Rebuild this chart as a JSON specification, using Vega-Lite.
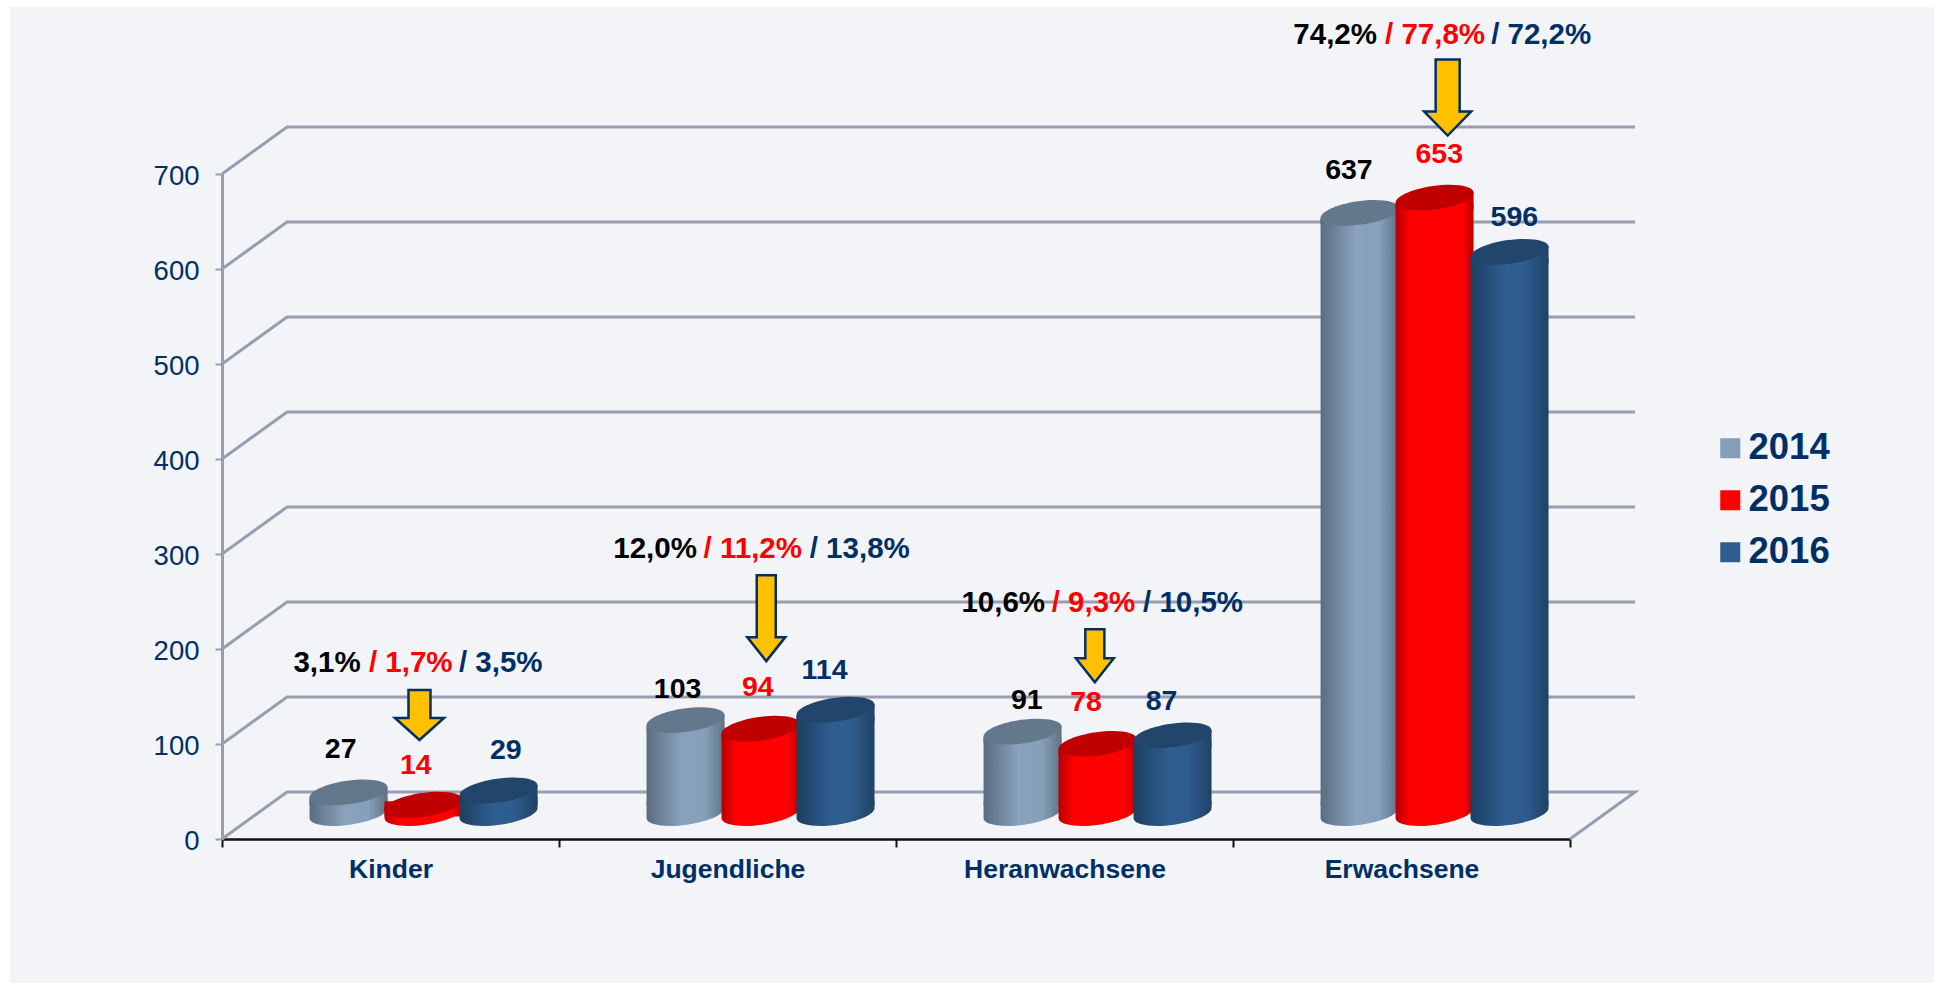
{
"$schema":"https://vega.github.io/schema/vega-lite/v6.json",
"autosize":{"type":"none"},
"background":"#ffffff",
"padding":{"left":10,"top":7,"right":0,"bottom":0},
"width":1924,"height":976,
"config":{"view":{"fill":"#f2f4f8","stroke":null},"font":"Liberation Sans"},
"datasets":{
"bars":[
{"group":"Kinder","year":2014,"value":27,"labelPos":0.352,"labelVal":94.8},
{"group":"Kinder","year":2015,"value":14,"labelPos":0.575,"labelVal":77.9},
{"group":"Kinder","year":2016,"value":29,"labelPos":0.842,"labelVal":93.5},
{"group":"Jugendliche","year":2014,"value":103,"labelPos":1.352,"labelVal":158.4},
{"group":"Jugendliche","year":2015,"value":94,"labelPos":1.59,"labelVal":159.7},
{"group":"Jugendliche","year":2016,"value":114,"labelPos":1.788,"labelVal":177.9},
{"group":"Heranwachsene","year":2014,"value":91,"labelPos":2.388,"labelVal":146.8},
{"group":"Heranwachsene","year":2015,"value":78,"labelPos":2.564,"labelVal":144.2},
{"group":"Heranwachsene","year":2016,"value":87,"labelPos":2.788,"labelVal":145.5},
{"group":"Erwachsene","year":2014,"value":637,"labelPos":3.344,"labelVal":703.9},
{"group":"Erwachsene","year":2015,"value":653,"labelPos":3.612,"labelVal":720.8},
{"group":"Erwachsene","year":2016,"value":596,"labelPos":3.835,"labelVal":654.5}
],
"shares":[
{"group":"Kinder","year":2014,"text":"3,1%","pos":0.212,"val":185.7},
{"group":"Kinder","year":2015,"text":"/ 1,7%","pos":0.436,"val":185.7},
{"group":"Kinder","year":2016,"text":"/ 3,5%","pos":0.703,"val":185.7},
{"group":"Jugendliche","year":2014,"text":"12,0%","pos":1.161,"val":305.2},
{"group":"Jugendliche","year":2015,"text":"/ 11,2%","pos":1.429,"val":305.2},
{"group":"Jugendliche","year":2016,"text":"/ 13,8%","pos":1.744,"val":305.2},
{"group":"Heranwachsene","year":2014,"text":"10,6%","pos":2.194,"val":248},
{"group":"Heranwachsene","year":2015,"text":"/ 9,3%","pos":2.462,"val":248},
{"group":"Heranwachsene","year":2016,"text":"/ 10,5%","pos":2.733,"val":248},
{"group":"Erwachsene","year":2014,"text":"74,2%","pos":3.179,"val":846.8},
{"group":"Erwachsene","year":2015,"text":"/ 77,8%","pos":3.451,"val":846.8},
{"group":"Erwachsene","year":2016,"text":"/ 72,2%","pos":3.766,"val":846.8}
],
"arrows":[
{"group":"Kinder","pos":0.586,"val":130.5},
{"group":"Jugendliche","pos":1.615,"val":232.5},
{"group":"Heranwachsene","pos":2.59,"val":192.9},
{"group":"Erwachsene","pos":3.637,"val":780.5}
],
"grid":[
{"tick":0,"step":1,"u":0,"v":0},{"tick":0,"step":2,"u":0.193,"v":49.5},{"tick":0,"step":3,"u":4.193,"v":49.5},{"tick":0,"step":4,"u":4,"v":0},
{"tick":100,"step":1,"u":0,"v":100},{"tick":100,"step":2,"u":0.193,"v":149.5},{"tick":100,"step":3,"u":4.193,"v":149.5},
{"tick":200,"step":1,"u":0,"v":200},{"tick":200,"step":2,"u":0.193,"v":249.5},{"tick":200,"step":3,"u":4.193,"v":249.5},
{"tick":300,"step":1,"u":0,"v":300},{"tick":300,"step":2,"u":0.193,"v":349.5},{"tick":300,"step":3,"u":4.193,"v":349.5},
{"tick":400,"step":1,"u":0,"v":400},{"tick":400,"step":2,"u":0.193,"v":449.5},{"tick":400,"step":3,"u":4.193,"v":449.5},
{"tick":500,"step":1,"u":0,"v":500},{"tick":500,"step":2,"u":0.193,"v":549.5},{"tick":500,"step":3,"u":4.193,"v":549.5},
{"tick":600,"step":1,"u":0,"v":600},{"tick":600,"step":2,"u":0.193,"v":649.5},{"tick":600,"step":3,"u":4.193,"v":649.5},
{"tick":700,"step":1,"u":0,"v":700},{"tick":700,"step":2,"u":0.193,"v":749.5},{"tick":700,"step":3,"u":4.193,"v":749.5}
]
},
"layer":[
{
"data":{"name":"grid"},
"mark":{"type":"line","stroke":"#9a9db0","strokeWidth":3,"clip":false},
"encoding":{
"x":{"field":"u","type":"quantitative","sort":null,"scale":{"domain":[0,4],"range":[212,1560]},"axis":null},
"y":{"field":"v","type":"quantitative","scale":{"domain":[0,700],"range":[832,167]},
"axis":{"orient":"left","offset":-212,"title":null,"values":[0,100,200,300,400,500,600,700],"grid":false,"labelFontSize":27.5,"labelColor":"#002f66","labelFont":"Liberation Sans","labelPadding":16,"labelOffset":2,"tickSize":7,"tickColor":"#9a9db0","tickWidth":2,"domainColor":"#9a9db0","domainWidth":3}},
"detail":{"field":"tick"},
"order":{"field":"step"}
}
},
{
"data":{"name":"bars"},
"encoding":{
"x":{"field":"group","type":"nominal","scale":{"domain":["Kinder","Jugendliche","Heranwachsene","Erwachsene"],"range":[212,1560],"paddingInner":0,"paddingOuter":0},
"axis":{"title":null,"orient":"bottom","offset":-144,"labelAngle":0,"tickBand":"extent","labelFontSize":26.5,"labelFontWeight":"bold","labelColor":"#002f66","labelFont":"Liberation Sans","labelPadding":9,"labelLimit":500,"tickSize":8,"tickColor":"#111111","tickWidth":2,"domainColor":"#111111","domainWidth":2.5}},
"xOffset":{"field":"year","type":"nominal","scale":{"domain":[2014,2015,2016],"paddingInner":0,"paddingOuter":0.747,"align":0.795}},
"y":{"field":"value","type":"quantitative","scale":{"domain":[0,700],"range":[832,167]}}
},
"layer":[
{"transform":[{"filter":"datum.year==2014"}],"layer":[
{"mark":{"type":"point","shape":"M-1,-0.3L-1,0.14A1,0.3,-8,0,0,1,-0.14L1,-0.3Z","size":6084,"filled":true,"opacity":1,"strokeWidth":0,"yOffset":-26,"fill":{"gradient":"linear","x1":0,"x2":1,"y1":0,"y2":0,"stops":[{"offset":0,"color":"#5a6c80"},{"offset":0.45,"color":"#8aa2bc"},{"offset":0.75,"color":"#86a0ba"},{"offset":1,"color":"#5f7286"}]}},"encoding":{"y":{"datum":0,"scale":{"domain":[0,700],"range":[832,167]}}}},
{"mark":{"type":"bar","width":78,"yOffset":-15,"y2Offset":-34,"fill":{"gradient":"linear","x1":0,"x2":1,"y1":0,"y2":0,"stops":[{"offset":0,"color":"#5a6c80"},{"offset":0.45,"color":"#8aa2bc"},{"offset":0.75,"color":"#86a0ba"},{"offset":1,"color":"#5f7286"}]}},"encoding":{"y2":{"datum":0}}},
{"mark":{"type":"point","shape":"M-1,0.14L1,-0.14L1,0.3L-1,0.3Z","size":6084,"filled":true,"opacity":1,"strokeWidth":0,"yOffset":-21,"fill":{"gradient":"linear","x1":0,"x2":1,"y1":0,"y2":0,"stops":[{"offset":0,"color":"#5a6c80"},{"offset":0.45,"color":"#8aa2bc"},{"offset":0.75,"color":"#86a0ba"},{"offset":1,"color":"#5f7286"}]}}},
{"mark":{"type":"point","shape":"M-1,0.14A1,0.3,-8,1,1,1,-0.14A1,0.3,-8,1,1,-1,0.14Z","size":6084,"filled":true,"opacity":1,"strokeWidth":0,"yOffset":-21,"fill":"#64788c"}}
]},
{"transform":[{"filter":"datum.year==2015"}],"layer":[
{"mark":{"type":"point","shape":"M-1,-0.3L-1,0.14A1,0.3,-8,0,0,1,-0.14L1,-0.3Z","size":6084,"filled":true,"opacity":1,"strokeWidth":0,"yOffset":-26,"fill":{"gradient":"linear","x1":0,"x2":1,"y1":0,"y2":0,"stops":[{"offset":0,"color":"#b80000"},{"offset":0.2,"color":"#ff0000"},{"offset":0.85,"color":"#ff0000"},{"offset":1,"color":"#bc0000"}]}},"encoding":{"y":{"datum":0,"scale":{"domain":[0,700],"range":[832,167]}}}},
{"mark":{"type":"bar","width":78,"yOffset":-15,"y2Offset":-34,"fill":{"gradient":"linear","x1":0,"x2":1,"y1":0,"y2":0,"stops":[{"offset":0,"color":"#b80000"},{"offset":0.2,"color":"#ff0000"},{"offset":0.85,"color":"#ff0000"},{"offset":1,"color":"#bc0000"}]}},"encoding":{"y2":{"datum":0}}},
{"mark":{"type":"point","shape":"M-1,0.14L1,-0.14L1,0.3L-1,0.3Z","size":6084,"filled":true,"opacity":1,"strokeWidth":0,"yOffset":-21,"fill":{"gradient":"linear","x1":0,"x2":1,"y1":0,"y2":0,"stops":[{"offset":0,"color":"#b80000"},{"offset":0.2,"color":"#ff0000"},{"offset":0.85,"color":"#ff0000"},{"offset":1,"color":"#bc0000"}]}}},
{"mark":{"type":"point","shape":"M-1,0.14A1,0.3,-8,1,1,1,-0.14A1,0.3,-8,1,1,-1,0.14Z","size":6084,"filled":true,"opacity":1,"strokeWidth":0,"yOffset":-21,"fill":"#c00000"}}
]},
{"transform":[{"filter":"datum.year==2016"}],"layer":[
{"mark":{"type":"point","shape":"M-1,-0.3L-1,0.14A1,0.3,-8,0,0,1,-0.14L1,-0.3Z","size":6084,"filled":true,"opacity":1,"strokeWidth":0,"yOffset":-26,"fill":{"gradient":"linear","x1":0,"x2":1,"y1":0,"y2":0,"stops":[{"offset":0,"color":"#1d3f61"},{"offset":0.45,"color":"#2f5e92"},{"offset":0.7,"color":"#2e5c8e"},{"offset":1,"color":"#1f4266"}]}},"encoding":{"y":{"datum":0,"scale":{"domain":[0,700],"range":[832,167]}}}},
{"mark":{"type":"bar","width":78,"yOffset":-15,"y2Offset":-34,"fill":{"gradient":"linear","x1":0,"x2":1,"y1":0,"y2":0,"stops":[{"offset":0,"color":"#1d3f61"},{"offset":0.45,"color":"#2f5e92"},{"offset":0.7,"color":"#2e5c8e"},{"offset":1,"color":"#1f4266"}]}},"encoding":{"y2":{"datum":0}}},
{"mark":{"type":"point","shape":"M-1,0.14L1,-0.14L1,0.3L-1,0.3Z","size":6084,"filled":true,"opacity":1,"strokeWidth":0,"yOffset":-21,"fill":{"gradient":"linear","x1":0,"x2":1,"y1":0,"y2":0,"stops":[{"offset":0,"color":"#1d3f61"},{"offset":0.45,"color":"#2f5e92"},{"offset":0.7,"color":"#2e5c8e"},{"offset":1,"color":"#1f4266"}]}}},
{"mark":{"type":"point","shape":"M-1,0.14A1,0.3,-8,1,1,1,-0.14A1,0.3,-8,1,1,-1,0.14Z","size":6084,"filled":true,"opacity":1,"strokeWidth":0,"yOffset":-21,"fill":"#22456b"}}
]},
{"mark":{"type":"point","filled":true,"size":0,"opacity":1,"strokeWidth":0},
"encoding":{"fill":{"field":"year","type":"nominal","scale":{"domain":[2014,2015,2016],"range":["#869db8","#ff0000","#2f5d8f"]},
"legend":{"title":null,"orient":"none","legendX":1702,"legendY":423,"symbolType":"square","symbolSize":400,"symbolOpacity":1,"symbolStrokeWidth":0,"labelFontSize":36.5,"labelFontWeight":"bold","labelColor":"#002f66","labelFont":"Liberation Sans","rowPadding":15,"labelOffset":0}}}}
]
},
{
"encoding":{"x":{"field":"pos","type":"quantitative","scale":{"domain":[0,4],"range":[212,1560]},"axis":null},
"y":{"field":"val","type":"quantitative","scale":{"domain":[0,700],"range":[832,167]}}},
"layer":[
{"data":{"name":"arrows"},
"mark":{"type":"point","filled":true,"opacity":1,"size":10000,"fill":"#ffc000","stroke":"#002f66","strokeWidth":2.5,"clip":false},
"encoding":{"shape":{"field":"group","type":"nominal","legend":null,"scale":{"domain":["Kinder","Jugendliche","Heranwachsene","Erwachsene"],"range":[
"M-0.22,-0.5L0.22,-0.5L0.22,0.06L0.49,0.06L0,0.5L-0.49,0.06L-0.22,0.06Z",
"M-0.19,-0.86L0.19,-0.86L0.19,0.38L0.38,0.38L0,0.86L-0.38,0.38L-0.19,0.38Z",
"M-0.19,-0.53L0.19,-0.53L0.19,0.05L0.38,0.05L0,0.53L-0.38,0.05L-0.19,0.05Z",
"M-0.24,-0.76L0.24,-0.76L0.24,0.28L0.47,0.28L0,0.76L-0.47,0.28L-0.24,0.28Z"]}}}},
{"data":{"name":"shares"},
"mark":{"type":"text","align":"left","baseline":"middle","fontSize":29.5,"fontWeight":"bold","font":"Liberation Sans"},
"encoding":{"text":{"field":"text"},
"color":{"field":"year","type":"nominal","legend":null,"scale":{"domain":[2014,2015,2016],"range":["#000000","#ff0000","#002f66"]}}}},
{"data":{"name":"bars"},
"mark":{"type":"text","align":"center","baseline":"middle","fontSize":28.5,"fontWeight":"bold","font":"Liberation Sans"},
"encoding":{"x":{"field":"labelPos","type":"quantitative","scale":{"domain":[0,4],"range":[212,1560]},"axis":null},
"y":{"field":"labelVal","type":"quantitative","scale":{"domain":[0,700],"range":[832,167]}},
"text":{"field":"value"},
"color":{"field":"year","type":"nominal","legend":null,"scale":{"domain":[2014,2015,2016],"range":["#000000","#ff0000","#002f66"]}}}}
]
}
],
"resolve":{"scale":{"x":"independent"}}
}
